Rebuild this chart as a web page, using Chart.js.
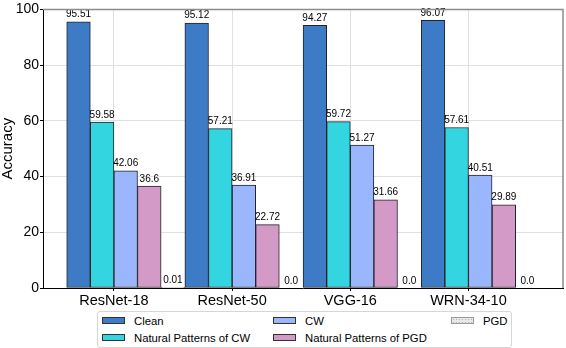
<!DOCTYPE html>
<html>
<head>
<meta charset="utf-8">
<script src="https://cdn.jsdelivr.net/npm/chart.js@4.4.0/dist/chart.umd.min.js"></script>
<style>
body{margin:0;background:#fff;}
#wrap{position:relative;width:566px;height:348px;}
#legend{position:absolute;left:97px;top:311px;width:413px;height:35px;border:1px solid #d6d6d6;border-radius:3px;background:#fff;
  font-family:"Liberation Sans",Arial,sans-serif;font-size:11.3px;color:#000;}
.item{position:absolute;height:14px;line-height:14px;white-space:nowrap;}
.sw{position:absolute;left:0;top:3px;width:23px;height:7px;box-sizing:border-box;border:1px solid #333;}
.txt{position:absolute;left:32px;top:0;}
</style>
</head>
<body>
<div id="wrap">
  <canvas id="chart"></canvas>
  <div id="legend"></div>
</div>
<script>
var models = ['ResNet-18', 'ResNet-50', 'VGG-16', 'WRN-34-10'];
var clean = [95.51, 95.12, 94.27, 96.07];
var natCW = [59.58, 57.21, 59.72, 57.61];
var cw = [42.06, 36.91, 51.27, 40.51];
var natPGD = [36.6, 22.72, 31.66, 29.89];
var pgd = [0.01, 0.0, 0.0, 0.0];
var yTicks = [0, 20, 40, 60, 80, 100];

var FONT = '"Liberation Sans", Arial, sans-serif';

function pts(vals) {
  return vals.map(function (v, i) { return { x: i, y: v }; });
}
function txt(vals) {
  return vals.map(function (v) { return v === 0 ? '0.0' : String(v); });
}

var series = [
  { label: 'Clean', vals: clean, color: '#3d7bc6' },
  { label: 'Natural Patterns of CW', vals: natCW, color: '#33d5e0' },
  { label: 'CW', vals: cw, color: '#9ab6fc' },
  { label: 'Natural Patterns of PGD', vals: natPGD, color: '#d39ac8' },
  { label: 'PGD', vals: pgd, color: '#e8e8e8' }
];

// empty first slot so the tick sits between the 2nd and 3rd bar, like the original
var datasets = [{ label: '', data: models.map(function (m, i) { return { x: i, y: null }; }) }];
series.forEach(function (s) {
  datasets.push({
    label: s.label,
    data: pts(s.vals),
    valueText: txt(s.vals),
    backgroundColor: s.color,
    borderColor: '#222',
    borderWidth: 1,
    borderSkipped: false
  });
});

var barLabels = {
  id: 'barLabels',
  afterDatasetsDraw: function (chart) {
    var ctx = chart.ctx;
    ctx.save();
    ctx.font = '10px ' + FONT;
    ctx.fillStyle = '#000';
    ctx.textAlign = 'center';
    ctx.textBaseline = 'alphabetic';
    chart.data.datasets.forEach(function (ds, di) {
      if (!ds.valueText) return;
      chart.getDatasetMeta(di).data.forEach(function (bar, i) {
        ctx.fillText(ds.valueText[i], bar.x, bar.y - 4.5);
      });
    });
    var a = chart.chartArea;
    ctx.strokeStyle = '#8c8c8c';
    ctx.lineWidth = 1.5;
    ctx.beginPath();
    ctx.moveTo(a.left, a.top);
    ctx.lineTo(a.right, a.top);
    ctx.lineTo(a.right, a.bottom);
    ctx.stroke();
    ctx.restore();
  }
};

var ctx = document.getElementById('chart').getContext('2d');
var chart = new Chart(ctx, {
  type: 'bar',
  data: { datasets: datasets },
  plugins: [barLabels],
  options: {
    responsive: true,
    maintainAspectRatio: false,
    animation: false,
    layout: { padding: { top: 7, right: 3, left: 0, bottom: 0 } },
    datasets: { bar: { barThickness: 23.6 } },
    plugins: { legend: { display: false }, tooltip: { enabled: false } },
    scales: {
      x: {
        type: 'linear',
        min: -0.6,
        max: 3.8,
        offset: false,
        afterBuildTicks: function (s) { s.ticks = models.map(function (m, i) { return { value: i }; }); },
        afterFit: function (s) { s.height = 60; },
        ticks: {
          callback: function (v) { return models[v]; },
          font: { size: 14.5, family: FONT },
          color: '#000',
          padding: 1,
          maxRotation: 0,
          autoSkip: false
        },
        grid: { offset: false, color: '#e0e0e0', tickColor: '#000', tickLength: 3 },
        border: { color: '#000', width: 1 }
      },
      y: {
        min: 0,
        max: 100,
        afterBuildTicks: function (s) { s.ticks = yTicks.map(function (v) { return { value: v }; }); },
        afterFit: function (s) { s.width = 43; },
        ticks: { font: { size: 14, family: FONT }, color: '#000', padding: 1 },
        grid: { color: '#e0e0e0', tickColor: '#000', tickLength: 3 },
        border: { color: '#000', width: 1 },
        title: { display: true, text: 'Accuracy', font: { size: 15, family: FONT }, color: '#000', padding: { top: -1, bottom: 0 } }
      }
    }
  }
});

// legend in three columns, filled column by column
var leg = document.getElementById('legend');
var colX = [4, 175, 353];
var rowY = [2, 19];
chart.data.datasets.forEach(function (ds, di) {
  if (!ds.valueText) return;
  var k = di - 1;
  var item = document.createElement('div');
  item.className = 'item';
  item.style.left = colX[Math.floor(k / 2)] + 'px';
  item.style.top = rowY[k % 2] + 'px';
  var sw = document.createElement('div');
  sw.className = 'sw';
  sw.style.backgroundColor = ds.backgroundColor;
  if (ds.label === 'PGD') {
    sw.style.borderColor = '#999';
    sw.style.backgroundImage = 'radial-gradient(#b5b5b5 0.5px, transparent 0.8px)';
    sw.style.backgroundSize = '3px 3px';
  }
  var t = document.createElement('span');
  t.className = 'txt';
  t.textContent = ds.label;
  item.appendChild(sw);
  item.appendChild(t);
  leg.appendChild(item);
});
</script>
</body>
</html>
